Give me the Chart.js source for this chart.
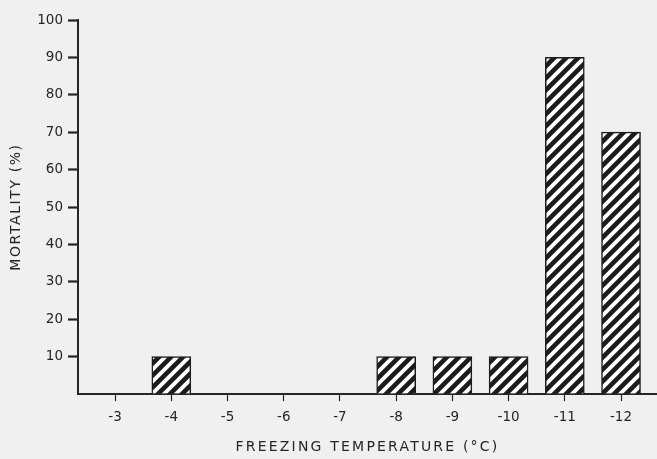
<!DOCTYPE html>
<html>
<head>
<meta charset="utf-8">
<script src="https://cdn.jsdelivr.net/npm/chart.js@4/dist/chart.umd.min.js"></script>
<style>
  html, body { margin: 0; padding: 0; background: #f0f0f0; }
  #wrap { width: 657px; height: 459px; position: relative; }
</style>
</head>
<body>
<div id="wrap"><canvas id="c"></canvas></div>
<script>
// ---- data ----
const temperatureLabels = ['-3', '-4', '-5', '-6', '-7', '-8', '-9', '-10', '-11', '-12'];
const mortalityPct = [0, 10, 0, 0, 0, 10, 10, 10, 90, 70];
const yTickValues = [10, 20, 30, 40, 50, 60, 70, 80, 90, 100];
const xTitle = 'FREEZING TEMPERATURE (°C)';
const yTitle = 'MORTALITY (%)';

// ---- styling helpers ----
const INK = '#252525';
const FONT = 'DejaVu Sans';

function hatchPattern(ctx) {
  const w = 12, h = 12;
  const c = document.createElement('canvas');
  c.width = w; c.height = h;
  const g = c.getContext('2d');
  g.fillStyle = '#ffffff';
  g.fillRect(0, 0, w, h);
  g.strokeStyle = '#1c1c1c';
  g.lineWidth = 4.6;
  g.beginPath();
  for (let k = 0; k <= 2; k++) {
    // line x/w + y/h = k, extended past the tile edges
    g.moveTo(k * w - 2 * w, 2 * h);
    g.lineTo(k * w + 1 * w, -1 * h);
  }
  g.stroke();
  return ctx.createPattern(c, 'repeat');
}

// letter-spaced axis titles
const origDrawTitle = Chart.Scale.prototype.drawTitle;
Chart.Scale.prototype.drawTitle = function () {
  const ctx = this.ctx;
  const prev = ctx.letterSpacing;
  ctx.letterSpacing = this.axis === 'x' ? '2.2px' : '1.6px';
  origDrawTitle.call(this);
  ctx.letterSpacing = prev || '0px';
};

const canvas = document.getElementById('c');
const ctx = canvas.getContext('2d');
const pattern = hatchPattern(ctx);

const points = temperatureLabels.map((t, i) => ({ x: i, y: mortalityPct[i] }));

new Chart(ctx, {
  type: 'bar',
  data: {
    datasets: [{
      data: points,
      backgroundColor: pattern,
      borderColor: '#1c1c1c',
      borderWidth: 1.5,
      borderSkipped: 'start',
      barThickness: 39
    }]
  },
  options: {
    responsive: true,
    maintainAspectRatio: false,
    animation: false,
    events: [],
    layout: { padding: { top: 20, right: 0, left: 0, bottom: 0 } },
    plugins: { legend: { display: false }, tooltip: { enabled: false } },
    scales: {
      x: {
        type: 'linear',
        offset: false,
        min: -0.66,
        max: 9.64,
        afterBuildTicks: (scale) => {
          scale.ticks = temperatureLabels.map((_, i) => ({ value: i }));
        },
        afterFit: (scale) => { scale.height = 65; },
        ticks: {
          autoSkip: false,
          maxRotation: 0,
          padding: 8,
          color: INK,
          font: { family: FONT, size: 13.5 },
          callback: (v) => temperatureLabels[v] ?? ''
        },
        grid: {
          display: true,
          offset: false,
          drawOnChartArea: false,
          drawTicks: true,
          tickLength: 7,
          tickWidth: 1.2,
          tickColor: INK
        },
        border: { display: true, color: INK, width: 2 },
        title: {
          display: true,
          text: xTitle,
          color: INK,
          font: { family: FONT, size: 14 },
          padding: { top: 4, bottom: 3 }
        }
      },
      y: {
        min: 0,
        max: 100,
        afterBuildTicks: (scale) => {
          scale.ticks = [{ value: 0 }].concat(yTickValues.map(v => ({ value: v })));
        },
        afterFit: (scale) => { scale.width = 78; },
        ticks: {
          padding: 5,
          color: INK,
          font: { family: FONT, size: 13.5 },
          callback: (v) => (v === 0 ? '' : String(v))
        },
        grid: {
          display: true,
          drawOnChartArea: false,
          drawTicks: true,
          tickLength: 10,
          tickWidth: 2.2,
          tickColor: (c) => (c.tick && c.tick.value === 0 ? 'rgba(0,0,0,0)' : INK)
        },
        border: { display: true, color: INK, width: 2 },
        title: {
          display: true,
          text: yTitle,
          color: INK,
          font: { family: FONT, size: 14 },
          padding: { top: 8, bottom: 4 }
        }
      }
    }
  }
});
</script>
</body>
</html>
